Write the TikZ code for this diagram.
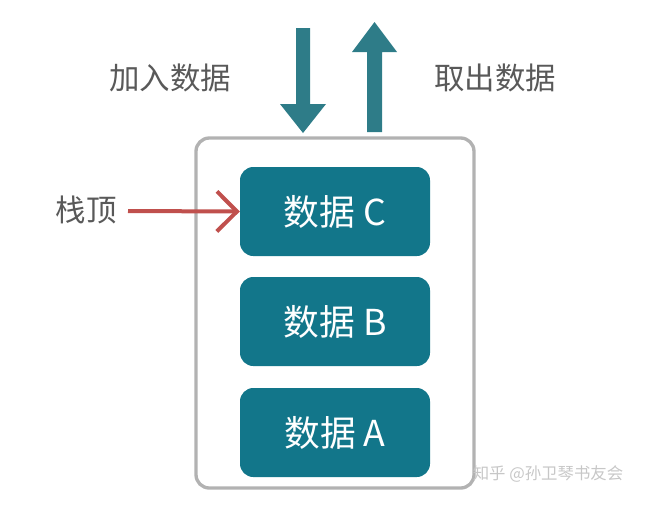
\documentclass[tikz,border=0pt]{standalone}
\usepackage{fontspec}
\setmainfont{Noto Sans CJK SC}
\usetikzlibrary{arrows.meta}
\definecolor{teal}{HTML}{12768A}
\definecolor{arrowteal}{HTML}{2E7C88}
\definecolor{redline}{HTML}{C0504D}
\definecolor{labelgray}{HTML}{595959}
\tikzset{
  data/.style={fill=teal, rounded corners=4mm, minimum width=57mm, minimum height=26.7mm, text=white, font=\fontsize{30.5}{34}\selectfont},
  label/.style={text=labelgray, font=\fontsize{26}{30}\selectfont},
  bigarrow/.style={fill=arrowteal}
}
\begin{document}
\begin{tikzpicture}[x=0.3mm,y=-0.3mm]
    \useasboundingbox (0,0) rectangle (653,504);
    % stack container
    \draw[line width=1mm, black!30, rounded corners=4mm] (196,138) rectangle (474,488);
    % data items
    \node[data] (c) at (335,211.5) {数据 C};
    \node[data] (b) at (335,321.5) {数据 B};
    \node[data] (a) at (335,432.5) {数据 A};
    % push / pop arrows
    \fill[bigarrow] (296,28) -- (310,28) -- (310,104) -- (326,104) -- (303,133) -- (280,104) -- (296,104) -- cycle;
    \fill[bigarrow] (367,132) -- (382,132) -- (382,52) -- (397,52) -- (374.5,22) -- (352,52) -- (367,52) -- cycle;
    \node[label] (push) at (170,78) {加入数据};
    \node[label] (pop) at (495,78) {取出数据};
    % top pointer
    \node[label] (top) at (86,210) {栈顶};
    \draw[redline, line width=1.2mm, -{Straight Barb[length=6mm, width=12mm]}] (128,211) coordinate (s) -- (c.west);
    % watermark
    \node[text=black!22, font=\fontsize{14}{16}\selectfont] (mark) at (548,474) {知乎 @孙卫琴书友会};
\end{tikzpicture}
\end{document}
